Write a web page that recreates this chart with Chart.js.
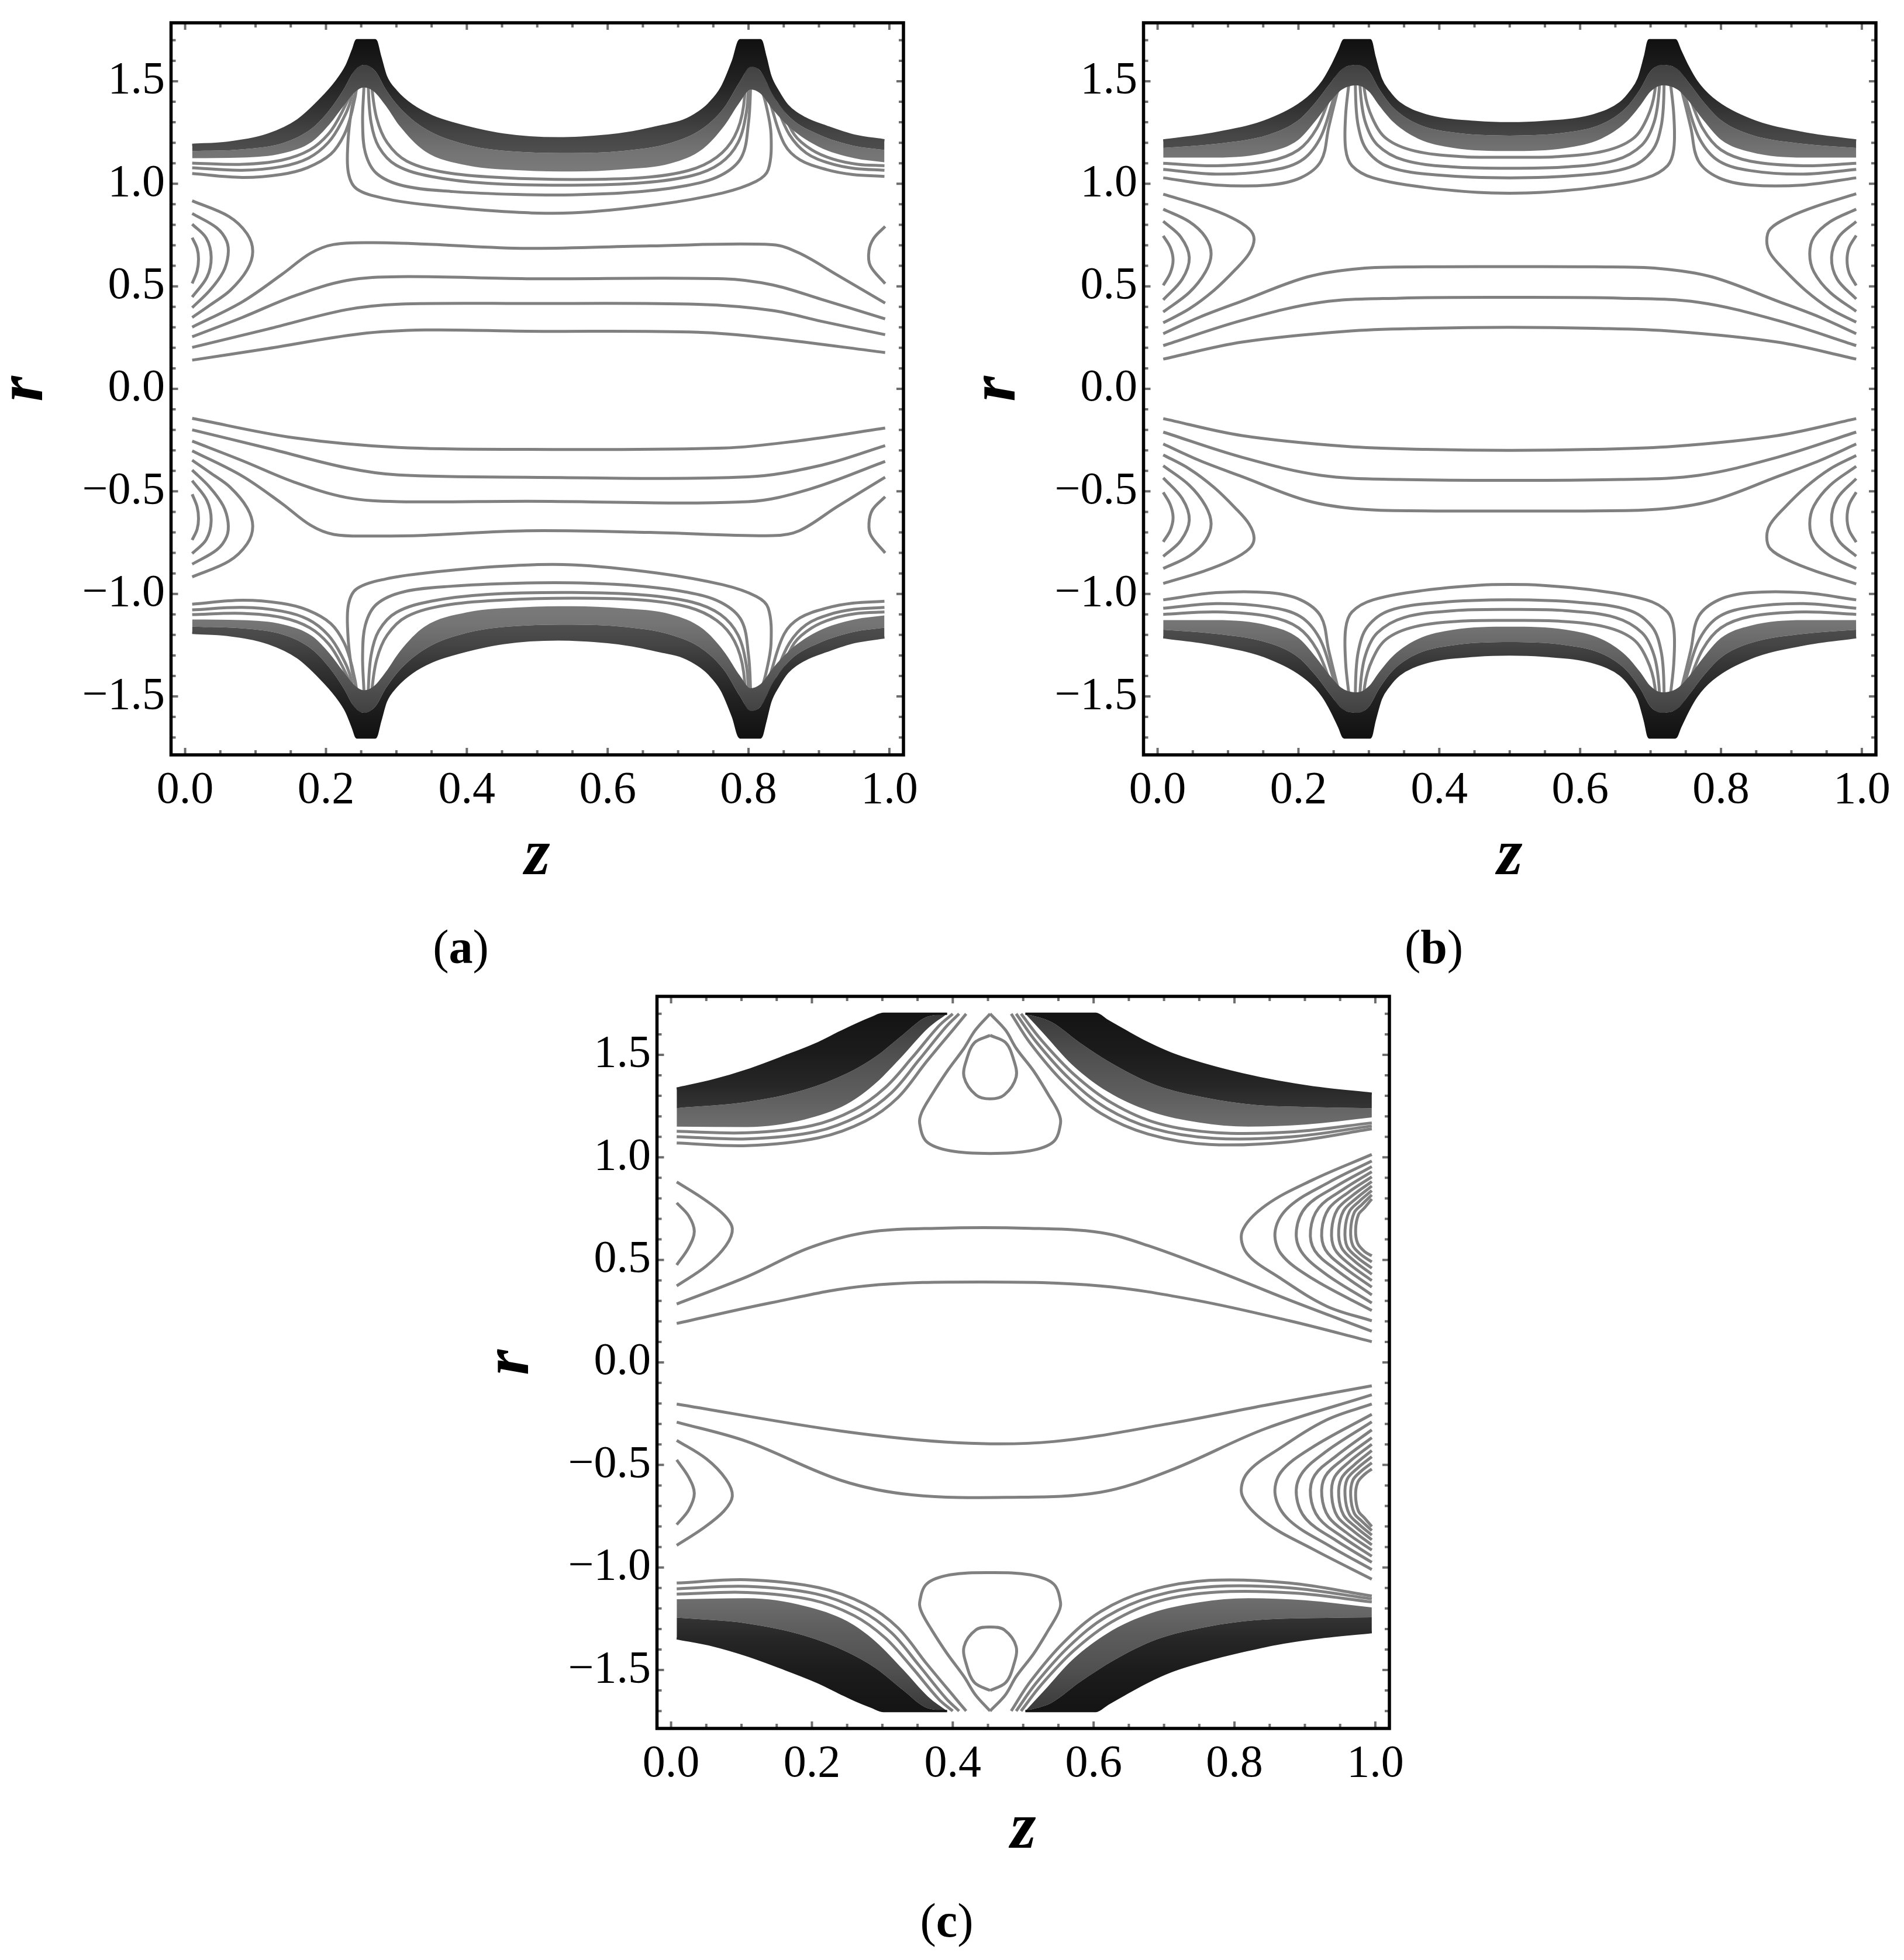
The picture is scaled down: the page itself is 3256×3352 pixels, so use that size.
<!DOCTYPE html>
<html lang="en">
  <head>
    <meta charset="UTF-8" />
    <title>Streamlines (a) (b) (c)</title>
    <script src="https://cdn.jsdelivr.net/npm/chart.js"></script>
    <style>
      body { margin: 0; background: #fff; }
      #page { position: relative; width: 3256px; height: 3352px; background: #fff; }
      canvas { position: absolute; }
      .tag {
        position: absolute;
        transform: translate(-50%, -50%);
        font-family: "Liberation Serif", "DejaVu Serif", serif;
        font-size: 82px;
        line-height: 1;
        white-space: nowrap;
        color: #000;
      }
    </style>
  </head>
  <body>
    <div id="page">
      <canvas id="chart-a" width="1600" height="1540" style="left:0px;top:0px"></canvas>
      <canvas id="chart-b" width="1600" height="1540" style="left:1663px;top:0px"></canvas>
      <canvas id="chart-c" width="1600" height="1540" style="left:831px;top:1665px"></canvas>
      <div class="tag" style="left:788px;top:1620px">(<b>a</b>)</div>
      <div class="tag" style="left:2452px;top:1620px">(<b>b</b>)</div>
      <div class="tag" style="left:1619px;top:3285px">(<b>c</b>)</div>
    </div>

    <script>
      // axis ticks
      const zTicks = [0, 0.2, 0.4, 0.6, 0.8, 1.0];
      const rTicks = [-1.5, -1.0, -0.5, 0, 0.5, 1.0, 1.5];

      // ---------- (a) upper half ----------
      const aWallTop = [[0.01,1.19],[0.06,1.2],[0.118,1.24],[0.16,1.31],[0.192,1.41],[0.215,1.5],[0.229,1.574],[0.238,1.65],[0.244,1.7],[0.27,1.7],[0.277,1.62],[0.285,1.525],[0.3,1.45],[0.322,1.383],[0.35,1.33],[0.378,1.297],[0.452,1.24],[0.53,1.222],[0.6,1.235],[0.633,1.25],[0.675,1.28],[0.707,1.307],[0.73,1.35],[0.744,1.39],[0.762,1.47],[0.778,1.6],[0.788,1.7],[0.817,1.7],[0.824,1.62],[0.831,1.525],[0.842,1.45],[0.855,1.383],[0.88,1.32],[0.911,1.278],[0.95,1.235],[0.993,1.212]];
      const aMidTop = [[0.01,1.16],[0.08,1.168],[0.14,1.2],[0.18,1.27],[0.205,1.36],[0.225,1.46],[0.24,1.55],[0.254,1.58],[0.27,1.55],[0.285,1.46],[0.305,1.37],[0.34,1.27],[0.4,1.19],[0.48,1.155],[0.55,1.15],[0.62,1.16],[0.69,1.2],[0.735,1.27],[0.765,1.37],[0.788,1.5],[0.803,1.57],[0.817,1.55],[0.835,1.43],[0.86,1.32],[0.9,1.24],[0.95,1.185],[0.993,1.165]];
      const aEdgeTop = [[0.01,1.125],[0.08,1.128],[0.14,1.15],[0.18,1.205],[0.205,1.29],[0.225,1.38],[0.242,1.45],[0.254,1.47],[0.268,1.45],[0.285,1.38],[0.305,1.28],[0.34,1.16],[0.4,1.09],[0.48,1.065],[0.55,1.06],[0.62,1.07],[0.69,1.1],[0.735,1.17],[0.765,1.28],[0.788,1.4],[0.803,1.46],[0.817,1.44],[0.835,1.36],[0.86,1.27],[0.9,1.18],[0.95,1.125],[0.993,1.105]];
      const aL1 = [[0.01,1.05],[0.081,1.031],[0.137,1.046],[0.174,1.079],[0.207,1.145],[0.226,1.24],[0.237,1.354],[0.245,1.5],[0.25,1.7]];
      const aL2 = [[0.01,1.078],[0.081,1.066],[0.137,1.084],[0.175,1.125],[0.203,1.2],[0.222,1.3],[0.236,1.42],[0.246,1.7]];
      const aL3 = [[0.01,1.101],[0.081,1.095],[0.137,1.115],[0.177,1.165],[0.204,1.245],[0.222,1.345],[0.236,1.46],[0.244,1.7]];
      const aM1 = [[0.252,1.7],[0.245,1.5],[0.236,1.354],[0.231,1.19],[0.232,1.05],[0.244,0.974],[0.285,0.927],[0.341,0.898],[0.452,0.865],[0.55,0.858],[0.67,0.898],[0.763,0.955],[0.811,1.012],[0.828,1.069],[0.832,1.24],[0.825,1.383],[0.812,1.55],[0.806,1.7]];
      const aM2 = [[0.256,1.7],[0.254,1.48],[0.252,1.3],[0.256,1.15],[0.272,1.05],[0.31,0.99],[0.38,0.962],[0.47,0.948],[0.55,0.946],[0.64,0.96],[0.71,0.99],[0.76,1.04],[0.79,1.13],[0.8,1.3],[0.803,1.48],[0.805,1.7]];
      const aM3 = [[0.259,1.7],[0.26,1.48],[0.264,1.3],[0.275,1.18],[0.3,1.09],[0.35,1.035],[0.43,1.002],[0.55,0.993],[0.65,1.005],[0.72,1.04],[0.76,1.1],[0.785,1.2],[0.797,1.35],[0.8,1.5],[0.802,1.7]];
      const aM4 = [[0.262,1.7],[0.265,1.48],[0.272,1.32],[0.287,1.2],[0.315,1.11],[0.37,1.055],[0.45,1.03],[0.55,1.021],[0.65,1.03],[0.715,1.065],[0.755,1.13],[0.78,1.23],[0.793,1.38],[0.798,1.7]];
      const aR1 = [[0.81,1.7],[0.822,1.52],[0.833,1.37],[0.851,1.193],[0.873,1.117],[0.911,1.069],[0.948,1.045],[0.993,1.036]];
      const aR2 = [[0.813,1.7],[0.826,1.52],[0.84,1.38],[0.858,1.24],[0.882,1.15],[0.915,1.1],[0.95,1.075],[0.993,1.066]];
      const aR3 = [[0.816,1.7],[0.83,1.52],[0.845,1.39],[0.865,1.24],[0.89,1.165],[0.92,1.12],[0.955,1.095],[0.993,1.088]];
      const aLobe1 = [[0.01,0.917],[0.062,0.841],[0.088,0.756],[0.096,0.67],[0.088,0.58],[0.064,0.48],[0.036,0.41],[0.01,0.348]];
      const aLobe2 = [[0.01,0.855],[0.045,0.785],[0.059,0.72],[0.061,0.652],[0.054,0.57],[0.035,0.48],[0.01,0.396]];
      const aLobe3 = [[0.01,0.803],[0.03,0.735],[0.037,0.642],[0.031,0.545],[0.01,0.448]];
      const aLobe4 = [[0.01,0.737],[0.017,0.685],[0.019,0.633],[0.017,0.575],[0.01,0.514]];
      const aLobeR = [[0.994,0.792],[0.978,0.735],[0.971,0.673],[0.973,0.6],[0.994,0.513]];
      const aT1 = [[0.01,0.301],[0.081,0.424],[0.137,0.557],[0.178,0.661],[0.211,0.704],[0.266,0.713],[0.341,0.706],[0.485,0.685],[0.66,0.697],[0.834,0.703],[0.872,0.662],[0.926,0.555],[0.994,0.418]];
      const aT2 = [[0.01,0.254],[0.081,0.348],[0.155,0.453],[0.229,0.528],[0.303,0.547],[0.485,0.537],[0.764,0.537],[0.834,0.507],[0.904,0.436],[0.994,0.341]];
      const aT3 = [[0.01,0.202],[0.118,0.292],[0.229,0.386],[0.303,0.413],[0.485,0.416],[0.729,0.412],[0.834,0.382],[0.904,0.329],[0.994,0.264]];
      const aT4 = [[0.01,0.14],[0.118,0.197],[0.248,0.268],[0.341,0.287],[0.485,0.281],[0.729,0.276],[0.834,0.246],[0.994,0.177]];

      // ---------- (a) lower half ----------
      const aWallBot = [[0.01,-1.19],[0.06,-1.2],[0.118,-1.24],[0.16,-1.31],[0.192,-1.41],[0.215,-1.5],[0.229,-1.574],[0.238,-1.65],[0.244,-1.7],[0.27,-1.7],[0.277,-1.62],[0.285,-1.525],[0.3,-1.45],[0.322,-1.383],[0.35,-1.33],[0.378,-1.297],[0.452,-1.24],[0.53,-1.222],[0.6,-1.235],[0.633,-1.25],[0.675,-1.28],[0.707,-1.307],[0.73,-1.35],[0.744,-1.39],[0.762,-1.47],[0.778,-1.6],[0.788,-1.7],[0.817,-1.7],[0.824,-1.62],[0.831,-1.525],[0.842,-1.45],[0.855,-1.383],[0.88,-1.32],[0.911,-1.278],[0.95,-1.235],[0.993,-1.212]];
      const aMidBot = [[0.01,-1.16],[0.08,-1.168],[0.14,-1.2],[0.18,-1.27],[0.205,-1.36],[0.225,-1.46],[0.24,-1.55],[0.254,-1.58],[0.27,-1.55],[0.285,-1.46],[0.305,-1.37],[0.34,-1.27],[0.4,-1.19],[0.48,-1.155],[0.55,-1.15],[0.62,-1.16],[0.69,-1.2],[0.735,-1.27],[0.765,-1.37],[0.788,-1.5],[0.803,-1.57],[0.817,-1.55],[0.835,-1.43],[0.86,-1.32],[0.9,-1.24],[0.95,-1.185],[0.993,-1.165]];
      const aEdgeBot = [[0.01,-1.125],[0.08,-1.128],[0.14,-1.15],[0.18,-1.205],[0.205,-1.29],[0.225,-1.38],[0.242,-1.45],[0.254,-1.47],[0.268,-1.45],[0.285,-1.38],[0.305,-1.28],[0.34,-1.16],[0.4,-1.09],[0.48,-1.065],[0.55,-1.06],[0.62,-1.07],[0.69,-1.1],[0.735,-1.17],[0.765,-1.28],[0.788,-1.4],[0.803,-1.46],[0.817,-1.44],[0.835,-1.36],[0.86,-1.27],[0.9,-1.18],[0.95,-1.125],[0.993,-1.105]];
      const aL1b = [[0.01,-1.05],[0.081,-1.031],[0.137,-1.046],[0.174,-1.079],[0.207,-1.145],[0.226,-1.24],[0.237,-1.354],[0.245,-1.5],[0.25,-1.7]];
      const aL2b = [[0.01,-1.078],[0.081,-1.066],[0.137,-1.084],[0.175,-1.125],[0.203,-1.2],[0.222,-1.3],[0.236,-1.42],[0.246,-1.7]];
      const aL3b = [[0.01,-1.101],[0.081,-1.095],[0.137,-1.115],[0.177,-1.165],[0.204,-1.245],[0.222,-1.345],[0.236,-1.46],[0.244,-1.7]];
      const aM1b = [[0.252,-1.7],[0.245,-1.5],[0.236,-1.354],[0.231,-1.19],[0.232,-1.05],[0.244,-0.974],[0.285,-0.927],[0.341,-0.898],[0.452,-0.865],[0.55,-0.858],[0.67,-0.898],[0.763,-0.955],[0.811,-1.012],[0.828,-1.069],[0.832,-1.24],[0.825,-1.383],[0.812,-1.55],[0.806,-1.7]];
      const aM2b = [[0.256,-1.7],[0.254,-1.48],[0.252,-1.3],[0.256,-1.15],[0.272,-1.05],[0.31,-0.99],[0.38,-0.962],[0.47,-0.948],[0.55,-0.946],[0.64,-0.96],[0.71,-0.99],[0.76,-1.04],[0.79,-1.13],[0.8,-1.3],[0.803,-1.48],[0.805,-1.7]];
      const aM3b = [[0.259,-1.7],[0.26,-1.48],[0.264,-1.3],[0.275,-1.18],[0.3,-1.09],[0.35,-1.035],[0.43,-1.002],[0.55,-0.993],[0.65,-1.005],[0.72,-1.04],[0.76,-1.1],[0.785,-1.2],[0.797,-1.35],[0.8,-1.5],[0.802,-1.7]];
      const aM4b = [[0.262,-1.7],[0.265,-1.48],[0.272,-1.32],[0.287,-1.2],[0.315,-1.11],[0.37,-1.055],[0.45,-1.03],[0.55,-1.021],[0.65,-1.03],[0.715,-1.065],[0.755,-1.13],[0.78,-1.23],[0.793,-1.38],[0.798,-1.7]];
      const aR1b = [[0.81,-1.7],[0.822,-1.52],[0.833,-1.37],[0.851,-1.193],[0.873,-1.117],[0.911,-1.069],[0.948,-1.045],[0.993,-1.036]];
      const aR2b = [[0.813,-1.7],[0.826,-1.52],[0.84,-1.38],[0.858,-1.24],[0.882,-1.15],[0.915,-1.1],[0.95,-1.075],[0.993,-1.066]];
      const aR3b = [[0.816,-1.7],[0.83,-1.52],[0.845,-1.39],[0.865,-1.24],[0.89,-1.165],[0.92,-1.12],[0.955,-1.095],[0.993,-1.088]];
      const aLobe1b = [[0.01,-0.917],[0.062,-0.841],[0.088,-0.756],[0.096,-0.67],[0.088,-0.58],[0.064,-0.48],[0.036,-0.41],[0.01,-0.348]];
      const aLobe2b = [[0.01,-0.855],[0.045,-0.785],[0.059,-0.72],[0.061,-0.652],[0.054,-0.57],[0.035,-0.48],[0.01,-0.396]];
      const aLobe3b = [[0.01,-0.803],[0.03,-0.735],[0.037,-0.642],[0.031,-0.545],[0.01,-0.448]];
      const aLobe4b = [[0.01,-0.737],[0.017,-0.685],[0.019,-0.633],[0.017,-0.575],[0.01,-0.514]];
      const aLobeRb = [[0.994,-0.526],[0.976,-0.59],[0.971,-0.657],[0.974,-0.716],[0.994,-0.8]];
      const aB1 = [[0.01,-0.302],[0.081,-0.425],[0.137,-0.558],[0.178,-0.665],[0.211,-0.71],[0.266,-0.718],[0.341,-0.714],[0.485,-0.692],[0.66,-0.7],[0.834,-0.716],[0.872,-0.692],[0.926,-0.574],[0.994,-0.431]];
      const aB2 = [[0.01,-0.255],[0.081,-0.35],[0.155,-0.455],[0.229,-0.53],[0.303,-0.55],[0.485,-0.548],[0.799,-0.55],[0.886,-0.49],[0.994,-0.354]];
      const aB3 = [[0.01,-0.2],[0.118,-0.29],[0.229,-0.385],[0.303,-0.42],[0.485,-0.431],[0.799,-0.429],[0.904,-0.372],[0.994,-0.277]];
      const aB4 = [[0.01,-0.144],[0.155,-0.239],[0.303,-0.286],[0.485,-0.295],[0.764,-0.289],[0.872,-0.253],[0.994,-0.191]];

      // ---------- (b) upper half ----------
      const bWallTop = [[0.008,1.211],[0.083,1.247],[0.158,1.312],[0.213,1.418],[0.235,1.5],[0.247,1.571],[0.258,1.65],[0.265,1.7],[0.302,1.7],[0.308,1.62],[0.317,1.512],[0.328,1.45],[0.343,1.394],[0.38,1.335],[0.455,1.3],[0.5,1.295],[0.545,1.3],[0.62,1.335],[0.657,1.394],[0.672,1.45],[0.683,1.512],[0.692,1.62],[0.698,1.7],[0.735,1.7],[0.742,1.65],[0.753,1.571],[0.765,1.5],[0.787,1.418],[0.842,1.312],[0.917,1.247],[0.992,1.211]];
      const bMidTop = [[0.008,1.175],[0.083,1.195],[0.158,1.24],[0.2,1.31],[0.225,1.4],[0.245,1.49],[0.262,1.56],[0.283,1.58],[0.3,1.55],[0.315,1.46],[0.335,1.37],[0.37,1.29],[0.42,1.25],[0.5,1.235],[0.58,1.25],[0.63,1.29],[0.665,1.37],[0.685,1.46],[0.7,1.55],[0.717,1.58],[0.738,1.56],[0.755,1.49],[0.775,1.4],[0.8,1.31],[0.842,1.24],[0.917,1.195],[0.992,1.175]];
      const bEdgeTop = [[0.008,1.128],[0.083,1.128],[0.158,1.155],[0.2,1.215],[0.225,1.31],[0.245,1.4],[0.262,1.46],[0.283,1.48],[0.3,1.45],[0.315,1.38],[0.335,1.3],[0.37,1.22],[0.42,1.175],[0.5,1.16],[0.58,1.175],[0.63,1.22],[0.665,1.3],[0.685,1.38],[0.7,1.45],[0.717,1.48],[0.738,1.46],[0.755,1.4],[0.775,1.31],[0.8,1.215],[0.842,1.155],[0.917,1.128],[0.992,1.128]];
      const bL1 = [[0.008,1.029],[0.083,0.994],[0.158,0.994],[0.203,1.029],[0.232,1.111],[0.243,1.276],[0.254,1.43],[0.265,1.571],[0.275,1.7]];
      const bL2 = [[0.008,1.07],[0.083,1.047],[0.158,1.064],[0.203,1.111],[0.23,1.217],[0.248,1.394],[0.262,1.56],[0.272,1.7]];
      const bL3 = [[0.008,1.1],[0.083,1.088],[0.158,1.11],[0.2,1.165],[0.226,1.27],[0.245,1.43],[0.26,1.59],[0.27,1.7]];
      const bM1 = [[0.278,1.7],[0.272,1.5],[0.267,1.335],[0.267,1.17],[0.276,1.088],[0.306,1.029],[0.38,0.982],[0.455,0.958],[0.5,0.954],[0.545,0.958],[0.62,0.982],[0.694,1.029],[0.724,1.088],[0.733,1.17],[0.733,1.335],[0.728,1.5],[0.722,1.7]];
      const bM2 = [[0.282,1.7],[0.281,1.45],[0.285,1.28],[0.298,1.16],[0.33,1.08],[0.4,1.042],[0.5,1.029],[0.6,1.042],[0.67,1.08],[0.702,1.16],[0.715,1.28],[0.719,1.45],[0.718,1.7]];
      const bM3 = [[0.286,1.7],[0.288,1.45],[0.295,1.3],[0.312,1.19],[0.35,1.115],[0.42,1.082],[0.5,1.076],[0.58,1.082],[0.65,1.115],[0.688,1.19],[0.705,1.3],[0.712,1.45],[0.714,1.7]];
      const bM4 = [[0.29,1.7],[0.294,1.45],[0.305,1.32],[0.325,1.22],[0.365,1.16],[0.43,1.133],[0.5,1.129],[0.57,1.133],[0.635,1.16],[0.675,1.22],[0.695,1.32],[0.706,1.45],[0.71,1.7]];
      const bR1 = [[0.725,1.7],[0.735,1.571],[0.746,1.43],[0.757,1.276],[0.768,1.111],[0.797,1.029],[0.842,0.994],[0.917,0.994],[0.992,1.029]];
      const bR2 = [[0.728,1.7],[0.738,1.56],[0.752,1.394],[0.77,1.217],[0.797,1.111],[0.842,1.064],[0.917,1.047],[0.992,1.07]];
      const bR3 = [[0.73,1.7],[0.74,1.59],[0.755,1.43],[0.774,1.27],[0.8,1.165],[0.842,1.11],[0.917,1.088],[0.992,1.1]];
      const bLobeL1 = [[0.008,0.949],[0.065,0.89],[0.105,0.835],[0.13,0.78],[0.137,0.729],[0.13,0.66],[0.11,0.58],[0.08,0.48],[0.045,0.39],[0.008,0.322]];
      const bLobeL2 = [[0.008,0.876],[0.045,0.815],[0.068,0.74],[0.076,0.658],[0.068,0.57],[0.045,0.47],[0.008,0.375]];
      const bLobeL3 = [[0.008,0.817],[0.033,0.74],[0.045,0.64],[0.035,0.535],[0.008,0.434]];
      const bLobeL4 = [[0.008,0.746],[0.018,0.69],[0.022,0.628],[0.018,0.565],[0.008,0.505]];
      const bLobeR1 = [[0.992,0.951],[0.935,0.89],[0.895,0.835],[0.87,0.78],[0.865,0.722],[0.87,0.66],[0.89,0.58],[0.92,0.48],[0.955,0.39],[0.992,0.325]];
      const bLobeR2 = [[0.992,0.876],[0.955,0.815],[0.932,0.74],[0.926,0.658],[0.932,0.57],[0.955,0.47],[0.992,0.378]];
      const bLobeR3 = [[0.992,0.816],[0.967,0.74],[0.957,0.641],[0.965,0.535],[0.992,0.438]];
      const bLobeR4 = [[0.992,0.748],[0.982,0.69],[0.979,0.629],[0.982,0.565],[0.992,0.504]];
      const bT1 = [[0.008,0.269],[0.06,0.35],[0.12,0.428],[0.213,0.546],[0.288,0.587],[0.38,0.595],[0.5,0.596],[0.62,0.595],[0.712,0.587],[0.787,0.546],[0.88,0.428],[0.94,0.35],[0.992,0.269]];
      const bT2 = [[0.008,0.211],[0.12,0.334],[0.232,0.422],[0.343,0.442],[0.5,0.446],[0.657,0.442],[0.768,0.422],[0.88,0.334],[0.992,0.211]];
      const bT3 = [[0.008,0.145],[0.12,0.228],[0.269,0.281],[0.38,0.295],[0.5,0.3],[0.62,0.295],[0.731,0.281],[0.88,0.228],[0.992,0.145]];

      // ---------- (b) lower half ----------
      const bWallBot = [[0.008,-1.211],[0.083,-1.247],[0.158,-1.312],[0.213,-1.418],[0.235,-1.5],[0.247,-1.571],[0.258,-1.65],[0.265,-1.7],[0.302,-1.7],[0.308,-1.62],[0.317,-1.512],[0.328,-1.45],[0.343,-1.394],[0.38,-1.335],[0.455,-1.3],[0.5,-1.295],[0.545,-1.3],[0.62,-1.335],[0.657,-1.394],[0.672,-1.45],[0.683,-1.512],[0.692,-1.62],[0.698,-1.7],[0.735,-1.7],[0.742,-1.65],[0.753,-1.571],[0.765,-1.5],[0.787,-1.418],[0.842,-1.312],[0.917,-1.247],[0.992,-1.211]];
      const bMidBot = [[0.008,-1.175],[0.083,-1.195],[0.158,-1.24],[0.2,-1.31],[0.225,-1.4],[0.245,-1.49],[0.262,-1.56],[0.283,-1.58],[0.3,-1.55],[0.315,-1.46],[0.335,-1.37],[0.37,-1.29],[0.42,-1.25],[0.5,-1.235],[0.58,-1.25],[0.63,-1.29],[0.665,-1.37],[0.685,-1.46],[0.7,-1.55],[0.717,-1.58],[0.738,-1.56],[0.755,-1.49],[0.775,-1.4],[0.8,-1.31],[0.842,-1.24],[0.917,-1.195],[0.992,-1.175]];
      const bEdgeBot = [[0.008,-1.128],[0.083,-1.128],[0.158,-1.155],[0.2,-1.215],[0.225,-1.31],[0.245,-1.4],[0.262,-1.46],[0.283,-1.48],[0.3,-1.45],[0.315,-1.38],[0.335,-1.3],[0.37,-1.22],[0.42,-1.175],[0.5,-1.16],[0.58,-1.175],[0.63,-1.22],[0.665,-1.3],[0.685,-1.38],[0.7,-1.45],[0.717,-1.48],[0.738,-1.46],[0.755,-1.4],[0.775,-1.31],[0.8,-1.215],[0.842,-1.155],[0.917,-1.128],[0.992,-1.128]];
      const bL1b = [[0.008,-1.029],[0.083,-0.994],[0.158,-0.994],[0.203,-1.029],[0.232,-1.111],[0.243,-1.276],[0.254,-1.43],[0.265,-1.571],[0.275,-1.7]];
      const bL2b = [[0.008,-1.07],[0.083,-1.047],[0.158,-1.064],[0.203,-1.111],[0.23,-1.217],[0.248,-1.394],[0.262,-1.56],[0.272,-1.7]];
      const bL3b = [[0.008,-1.1],[0.083,-1.088],[0.158,-1.11],[0.2,-1.165],[0.226,-1.27],[0.245,-1.43],[0.26,-1.59],[0.27,-1.7]];
      const bM1b = [[0.278,-1.7],[0.272,-1.5],[0.267,-1.335],[0.267,-1.17],[0.276,-1.088],[0.306,-1.029],[0.38,-0.982],[0.455,-0.958],[0.5,-0.954],[0.545,-0.958],[0.62,-0.982],[0.694,-1.029],[0.724,-1.088],[0.733,-1.17],[0.733,-1.335],[0.728,-1.5],[0.722,-1.7]];
      const bM2b = [[0.282,-1.7],[0.281,-1.45],[0.285,-1.28],[0.298,-1.16],[0.33,-1.08],[0.4,-1.042],[0.5,-1.029],[0.6,-1.042],[0.67,-1.08],[0.702,-1.16],[0.715,-1.28],[0.719,-1.45],[0.718,-1.7]];
      const bM3b = [[0.286,-1.7],[0.288,-1.45],[0.295,-1.3],[0.312,-1.19],[0.35,-1.115],[0.42,-1.082],[0.5,-1.076],[0.58,-1.082],[0.65,-1.115],[0.688,-1.19],[0.705,-1.3],[0.712,-1.45],[0.714,-1.7]];
      const bM4b = [[0.29,-1.7],[0.294,-1.45],[0.305,-1.32],[0.325,-1.22],[0.365,-1.16],[0.43,-1.133],[0.5,-1.129],[0.57,-1.133],[0.635,-1.16],[0.675,-1.22],[0.695,-1.32],[0.706,-1.45],[0.71,-1.7]];
      const bR1b = [[0.725,-1.7],[0.735,-1.571],[0.746,-1.43],[0.757,-1.276],[0.768,-1.111],[0.797,-1.029],[0.842,-0.994],[0.917,-0.994],[0.992,-1.029]];
      const bR2b = [[0.728,-1.7],[0.738,-1.56],[0.752,-1.394],[0.77,-1.217],[0.797,-1.111],[0.842,-1.064],[0.917,-1.047],[0.992,-1.07]];
      const bR3b = [[0.73,-1.7],[0.74,-1.59],[0.755,-1.43],[0.774,-1.27],[0.8,-1.165],[0.842,-1.11],[0.917,-1.088],[0.992,-1.1]];
      const bLobeL1b = [[0.008,-0.949],[0.065,-0.89],[0.105,-0.835],[0.13,-0.78],[0.137,-0.729],[0.13,-0.66],[0.11,-0.58],[0.08,-0.48],[0.045,-0.39],[0.008,-0.322]];
      const bLobeL2b = [[0.008,-0.876],[0.045,-0.815],[0.068,-0.74],[0.076,-0.658],[0.068,-0.57],[0.045,-0.47],[0.008,-0.375]];
      const bLobeL3b = [[0.008,-0.817],[0.033,-0.74],[0.045,-0.64],[0.035,-0.535],[0.008,-0.434]];
      const bLobeL4b = [[0.008,-0.746],[0.018,-0.69],[0.022,-0.628],[0.018,-0.565],[0.008,-0.505]];
      const bLobeR1b = [[0.992,-0.951],[0.935,-0.89],[0.895,-0.835],[0.87,-0.78],[0.865,-0.722],[0.87,-0.66],[0.89,-0.58],[0.92,-0.48],[0.955,-0.39],[0.992,-0.325]];
      const bLobeR2b = [[0.992,-0.876],[0.955,-0.815],[0.932,-0.74],[0.926,-0.658],[0.932,-0.57],[0.955,-0.47],[0.992,-0.378]];
      const bLobeR3b = [[0.992,-0.816],[0.967,-0.74],[0.957,-0.641],[0.965,-0.535],[0.992,-0.438]];
      const bLobeR4b = [[0.992,-0.748],[0.982,-0.69],[0.979,-0.629],[0.982,-0.565],[0.992,-0.504]];
      const bB1 = [[0.008,-0.269],[0.06,-0.35],[0.12,-0.428],[0.213,-0.546],[0.288,-0.587],[0.38,-0.595],[0.5,-0.596],[0.62,-0.595],[0.712,-0.587],[0.787,-0.546],[0.88,-0.428],[0.94,-0.35],[0.992,-0.269]];
      const bB2 = [[0.008,-0.211],[0.12,-0.334],[0.232,-0.422],[0.343,-0.442],[0.5,-0.446],[0.657,-0.442],[0.768,-0.422],[0.88,-0.334],[0.992,-0.211]];
      const bB3 = [[0.008,-0.145],[0.12,-0.228],[0.269,-0.281],[0.38,-0.295],[0.5,-0.3],[0.62,-0.295],[0.731,-0.281],[0.88,-0.228],[0.992,-0.145]];

      // ---------- (c) upper half ----------
      const cWallLTop = [[0.008,1.335],[0.06,1.375],[0.108,1.424],[0.16,1.49],[0.209,1.557],[0.24,1.61],[0.262,1.646],[0.285,1.68],[0.302,1.7],[0.392,1.7]];
      const cMidLTop = [[0.008,1.24],[0.108,1.27],[0.19,1.33],[0.25,1.41],[0.29,1.49],[0.33,1.6],[0.36,1.68],[0.392,1.7]];
      const cEdgeLTop = [[0.008,1.15],[0.108,1.148],[0.19,1.185],[0.25,1.26],[0.29,1.36],[0.33,1.5],[0.365,1.63],[0.392,1.7]];
      const cWallRTop = [[0.503,1.7],[0.603,1.7],[0.62,1.665],[0.643,1.62],[0.675,1.56],[0.71,1.506],[0.76,1.45],[0.811,1.405],[0.86,1.37],[0.911,1.342],[0.995,1.31]];
      const cMidRTop = [[0.503,1.7],[0.54,1.66],[0.58,1.56],[0.63,1.45],[0.69,1.35],[0.76,1.29],[0.83,1.255],[0.91,1.245],[0.995,1.24]];
      const cEdgeRTop = [[0.503,1.7],[0.53,1.6],[0.57,1.45],[0.62,1.32],[0.68,1.225],[0.75,1.17],[0.82,1.15],[0.9,1.16],[0.995,1.195]];
      const cL1 = [[0.008,1.07],[0.108,1.057],[0.209,1.095],[0.276,1.177],[0.322,1.291],[0.363,1.468],[0.403,1.633],[0.419,1.7]];
      const cL2 = [[0.008,1.101],[0.108,1.09],[0.205,1.125],[0.268,1.205],[0.313,1.315],[0.352,1.475],[0.39,1.635],[0.409,1.7]];
      const cL3 = [[0.008,1.127],[0.108,1.12],[0.2,1.155],[0.26,1.232],[0.304,1.34],[0.342,1.485],[0.38,1.64],[0.4,1.7]];
      const cR1 = [[0.483,1.7],[0.51,1.557],[0.557,1.367],[0.61,1.215],[0.677,1.114],[0.764,1.063],[0.878,1.076],[0.995,1.139]];
      const cR2 = [[0.49,1.7],[0.518,1.565],[0.565,1.385],[0.618,1.24],[0.685,1.14],[0.77,1.093],[0.88,1.1],[0.995,1.153]];
      const cR3 = [[0.497,1.7],[0.525,1.575],[0.572,1.405],[0.626,1.265],[0.692,1.165],[0.776,1.12],[0.885,1.125],[0.995,1.168]];
      const cLoop1 = [[0.453,1.7],[0.475,1.62],[0.49,1.532],[0.515,1.42],[0.536,1.304],[0.55,1.22],[0.553,1.165],[0.543,1.076],[0.51,1.032],[0.453,1.019],[0.396,1.032],[0.363,1.076],[0.353,1.165],[0.356,1.22],[0.37,1.304],[0.392,1.42],[0.416,1.532],[0.432,1.62],[0.453,1.7]];
      const cLoop2 = [[0.453,1.595],[0.475,1.56],[0.486,1.481],[0.49,1.392],[0.473,1.304],[0.453,1.285],[0.433,1.304],[0.416,1.392],[0.42,1.481],[0.431,1.56],[0.453,1.595]];
      const cLobeL1 = [[0.008,0.88],[0.045,0.8],[0.075,0.72],[0.087,0.652],[0.078,0.57],[0.05,0.47],[0.008,0.373]];
      const cLobeL2 = [[0.008,0.778],[0.025,0.715],[0.033,0.639],[0.025,0.56],[0.008,0.475]];
      const cLobeR1 = [[0.995,1.014],[0.911,0.89],[0.844,0.765],[0.811,0.639],[0.818,0.53],[0.864,0.413],[0.931,0.274],[0.995,0.203]];
      const cLobeR2 = [[0.995,0.982],[0.935,0.88],[0.878,0.76],[0.858,0.645],[0.866,0.53],[0.91,0.41],[0.995,0.253]];
      const cLobeR3 = [[0.995,0.955],[0.945,0.86],[0.902,0.76],[0.888,0.645],[0.895,0.54],[0.93,0.43],[0.995,0.29]];
      const cLobeR4 = [[0.995,0.93],[0.955,0.845],[0.92,0.755],[0.908,0.645],[0.914,0.545],[0.945,0.45],[0.995,0.329]];
      const cLobeR5 = [[0.995,0.905],[0.962,0.83],[0.934,0.75],[0.924,0.645],[0.929,0.55],[0.955,0.465],[0.995,0.367]];
      const cLobeR6 = [[0.995,0.882],[0.968,0.815],[0.946,0.745],[0.938,0.645],[0.942,0.555],[0.963,0.48],[0.995,0.399]];
      const cLobeR7 = [[0.995,0.86],[0.973,0.8],[0.955,0.74],[0.948,0.645],[0.952,0.56],[0.97,0.495],[0.995,0.43]];
      const cLobeR8 = [[0.995,0.838],[0.977,0.785],[0.963,0.735],[0.957,0.645],[0.96,0.565],[0.975,0.51],[0.995,0.46]];
      const cLobeR9 = [[0.995,0.817],[0.981,0.77],[0.97,0.73],[0.965,0.645],[0.968,0.57],[0.98,0.525],[0.995,0.49]];
      const cLobeR10 = [[0.995,0.797],[0.985,0.755],[0.976,0.72],[0.972,0.645],[0.975,0.58],[0.985,0.54],[0.995,0.52]];
      const cT1 = [[0.008,0.285],[0.108,0.418],[0.195,0.557],[0.276,0.633],[0.376,0.654],[0.51,0.654],[0.61,0.633],[0.677,0.57],[0.777,0.443],[0.878,0.304],[0.995,0.152]];
      const cT2 = [[0.008,0.19],[0.142,0.291],[0.276,0.373],[0.443,0.392],[0.61,0.373],[0.744,0.304],[0.878,0.203],[0.995,0.101]];

      // ---------- (c) lower half ----------
      const cWallLBot = [[0.008,-1.345],[0.06,-1.38],[0.108,-1.428],[0.16,-1.493],[0.209,-1.56],[0.24,-1.612],[0.262,-1.648],[0.285,-1.68],[0.302,-1.7],[0.392,-1.7]];
      const cMidLBot = [[0.008,-1.245],[0.108,-1.273],[0.19,-1.333],[0.25,-1.412],[0.29,-1.49],[0.33,-1.6],[0.36,-1.68],[0.392,-1.7]];
      const cEdgeLBot = [[0.008,-1.155],[0.108,-1.15],[0.19,-1.188],[0.25,-1.262],[0.29,-1.36],[0.33,-1.5],[0.365,-1.63],[0.392,-1.7]];
      const cWallRBot = [[0.503,-1.7],[0.603,-1.7],[0.62,-1.665],[0.643,-1.62],[0.675,-1.56],[0.71,-1.506],[0.76,-1.452],[0.811,-1.408],[0.86,-1.372],[0.911,-1.345],[0.995,-1.315]];
      const cMidRBot = [[0.503,-1.7],[0.54,-1.66],[0.58,-1.56],[0.63,-1.45],[0.69,-1.35],[0.76,-1.29],[0.83,-1.257],[0.91,-1.247],[0.995,-1.243]];
      const cEdgeRBot = [[0.503,-1.7],[0.53,-1.6],[0.57,-1.45],[0.62,-1.32],[0.68,-1.225],[0.75,-1.17],[0.82,-1.15],[0.9,-1.16],[0.995,-1.195]];
      const cL1b = [[0.008,-1.076],[0.108,-1.06],[0.209,-1.098],[0.276,-1.18],[0.322,-1.294],[0.363,-1.47],[0.403,-1.635],[0.419,-1.7]];
      const cL2b = [[0.008,-1.104],[0.108,-1.092],[0.205,-1.128],[0.268,-1.208],[0.313,-1.318],[0.352,-1.477],[0.39,-1.637],[0.409,-1.7]];
      const cL3b = [[0.008,-1.13],[0.108,-1.122],[0.2,-1.158],[0.26,-1.235],[0.304,-1.343],[0.342,-1.487],[0.38,-1.642],[0.4,-1.7]];
      const cR1b = [[0.483,-1.7],[0.51,-1.557],[0.557,-1.367],[0.61,-1.215],[0.677,-1.114],[0.764,-1.063],[0.878,-1.076],[0.995,-1.139]];
      const cR2b = [[0.49,-1.7],[0.518,-1.565],[0.565,-1.385],[0.618,-1.24],[0.685,-1.14],[0.77,-1.093],[0.88,-1.1],[0.995,-1.153]];
      const cR3b = [[0.497,-1.7],[0.525,-1.575],[0.572,-1.405],[0.626,-1.265],[0.692,-1.165],[0.776,-1.12],[0.885,-1.125],[0.995,-1.168]];
      const cLoop1b = [[0.453,-1.7],[0.475,-1.62],[0.49,-1.532],[0.515,-1.42],[0.536,-1.304],[0.55,-1.22],[0.553,-1.17],[0.543,-1.08],[0.51,-1.036],[0.453,-1.025],[0.396,-1.036],[0.363,-1.08],[0.353,-1.17],[0.356,-1.22],[0.37,-1.304],[0.392,-1.42],[0.416,-1.532],[0.432,-1.62],[0.453,-1.7]];
      const cLoop2b = [[0.453,-1.6],[0.475,-1.562],[0.486,-1.481],[0.49,-1.386],[0.473,-1.304],[0.453,-1.29],[0.433,-1.304],[0.416,-1.386],[0.42,-1.481],[0.431,-1.562],[0.453,-1.6]];
      const cLobeL1b = [[0.008,-0.892],[0.045,-0.81],[0.075,-0.725],[0.087,-0.652],[0.078,-0.57],[0.05,-0.47],[0.008,-0.38]];
      const cLobeL2b = [[0.008,-0.791],[0.025,-0.72],[0.033,-0.639],[0.025,-0.56],[0.008,-0.475]];
      const cLobeR1b = [[0.995,-1.057],[0.911,-0.91],[0.844,-0.78],[0.811,-0.65],[0.818,-0.54],[0.864,-0.42],[0.931,-0.28],[0.995,-0.203]];
      const cLobeR2b = [[0.995,-1.01],[0.935,-0.895],[0.878,-0.77],[0.858,-0.65],[0.866,-0.535],[0.91,-0.415],[0.995,-0.253]];
      const cLobeR3b = [[0.995,-0.975],[0.945,-0.87],[0.902,-0.765],[0.888,-0.65],[0.895,-0.545],[0.93,-0.435],[0.995,-0.29]];
      const cLobeR4b = [[0.995,-0.945],[0.955,-0.855],[0.92,-0.76],[0.908,-0.65],[0.914,-0.55],[0.945,-0.455],[0.995,-0.329]];
      const cLobeR5b = [[0.995,-0.915],[0.962,-0.838],[0.934,-0.755],[0.924,-0.65],[0.929,-0.555],[0.955,-0.47],[0.995,-0.367]];
      const cLobeR6b = [[0.995,-0.89],[0.968,-0.82],[0.946,-0.75],[0.938,-0.65],[0.942,-0.56],[0.963,-0.485],[0.995,-0.399]];
      const cLobeR7b = [[0.995,-0.865],[0.973,-0.805],[0.955,-0.745],[0.948,-0.65],[0.952,-0.565],[0.97,-0.5],[0.995,-0.43]];
      const cLobeR8b = [[0.995,-0.842],[0.977,-0.79],[0.963,-0.74],[0.957,-0.65],[0.96,-0.57],[0.975,-0.515],[0.995,-0.46]];
      const cLobeR9b = [[0.995,-0.82],[0.981,-0.775],[0.97,-0.735],[0.965,-0.65],[0.968,-0.575],[0.98,-0.53],[0.995,-0.49]];
      const cLobeR10b = [[0.995,-0.8],[0.985,-0.76],[0.976,-0.725],[0.972,-0.65],[0.975,-0.585],[0.985,-0.545],[0.995,-0.52]];
      const cB1 = [[0.008,-0.291],[0.108,-0.386],[0.242,-0.576],[0.342,-0.646],[0.476,-0.658],[0.61,-0.633],[0.71,-0.525],[0.844,-0.323],[0.995,-0.158]];
      const cB2 = [[0.008,-0.203],[0.242,-0.335],[0.409,-0.392],[0.543,-0.386],[0.71,-0.297],[0.844,-0.209],[0.995,-0.114]];

      // ---------- look ----------
      const SERIF = "'Liberation Serif', 'DejaVu Serif', serif";
      const R_MAX = 1.785;
      const LINE_GREY = "#808080";
      // [r, colour] from the wall inwards; mirrored for the lower half
      const darkAB = [[1.7, "#111111"], [1.5, "#222222"], [1.35, "#353535"], [1.25, "#444444"], [1.15, "#4f4f4f"], [1.0, "#555555"]];
      const lightAB = [[1.7, "#333333"], [1.5, "#4a4a4a"], [1.3, "#626262"], [1.15, "#747474"], [1.0, "#7e7e7e"]];
      const darkC = [[1.7, "#141414"], [1.5, "#1c1c1c"], [1.35, "#262626"], [1.25, "#333333"], [1.15, "#3c3c3c"], [1.0, "#444444"]];
      const lightC = [[1.7, "#3a3a3a"], [1.5, "#505050"], [1.3, "#5e5e5e"], [1.15, "#6e6e6e"], [1.0, "#7a7a7a"]];

      function bandShade(chart, stops) {
        const y = chart.scales.y;
        if (!y || !chart.chartArea) return "#555555";
        const top = y.getPixelForValue(R_MAX);
        const bottom = y.getPixelForValue(-R_MAX);
        const g = chart.ctx.createLinearGradient(0, top, 0, bottom);
        const all = stops.concat(stops.slice().reverse().map(([r, c]) => [-r, c]));
        all.forEach(([r, c]) => g.addColorStop((R_MAX - r) / (2 * R_MAX), c));
        return g;
      }

      function fmt(v) {
        return Number(v).toFixed(1).replace("-", "\u2212");
      }

      // frame with inward ticks on all four sides
      const framePlugin = {
        id: "frameTicks",
        afterDraw(chart) {
          const { ctx, chartArea: a, scales } = chart;
          const x = scales.x;
          const y = scales.y;
          ctx.save();
          ctx.strokeStyle = "#6e6e6e";
          ctx.lineWidth = 4;
          ctx.beginPath();
          for (let i = 0; i <= 20; i++) {
            const px = x.getPixelForValue(i * 0.05);
            const len = i % 4 === 0 ? 12 : 8;
            ctx.moveTo(px, a.bottom);
            ctx.lineTo(px, a.bottom - len);
            ctx.moveTo(px, a.top);
            ctx.lineTo(px, a.top + len);
          }
          for (let i = -17; i <= 17; i++) {
            const py = y.getPixelForValue(i * 0.1);
            const len = i % 5 === 0 ? 12 : 8;
            ctx.moveTo(a.left, py);
            ctx.lineTo(a.left + len, py);
            ctx.moveTo(a.right, py);
            ctx.lineTo(a.right - len, py);
          }
          ctx.stroke();
          ctx.strokeStyle = "#000";
          ctx.lineWidth = 5.5;
          ctx.strokeRect(a.left, a.top, a.right - a.left, a.bottom - a.top);
          ctx.restore();
        },
      };

      // bands: [wall, mid, edge]; wall->mid dark, mid->edge lighter
      function drawPanel(id, bands, curves, dark, light) {
        const datasets = [];
        for (const [wall, mid, edge] of bands) {
          datasets.push({
            data: wall,
            fill: "+1",
            borderColor: (c) => bandShade(c.chart, dark),
            backgroundColor: (c) => bandShade(c.chart, dark),
            borderWidth: 4,
            cubicInterpolationMode: "monotone",
          });
          datasets.push({
            data: mid,
            fill: "+1",
            borderColor: "rgba(0,0,0,0)",
            backgroundColor: (c) => bandShade(c.chart, light),
            borderWidth: 1,
            cubicInterpolationMode: "monotone",
          });
          datasets.push({
            data: edge,
            fill: false,
            borderColor: "rgba(0,0,0,0)",
            borderWidth: 1,
            cubicInterpolationMode: "monotone",
          });
        }
        for (const pts of curves) {
          datasets.push({
            data: pts,
            fill: false,
            borderColor: LINE_GREY,
            borderWidth: 5,
            tension: 0.35,
          });
        }

        return new Chart(document.getElementById(id), {
          type: "line",
          data: { datasets: datasets },
          plugins: [framePlugin],
          options: {
            responsive: false,
            animation: false,
            events: [],
            layout: { padding: { top: 39, right: 55, bottom: 0, left: 0 } },
            elements: { point: { radius: 0 }, line: { borderJoinStyle: "round" } },
            plugins: { legend: { display: false }, tooltip: { enabled: false } },
            scales: {
              x: {
                type: "linear",
                min: -0.02,
                max: 1.02,
                grid: { display: false, drawTicks: false },
                border: { display: false },
                afterBuildTicks: (s) => { s.ticks = zTicks.map((v) => ({ value: v })); },
                afterFit: (s) => { s.height = 249; s.paddingLeft = 0; s.paddingRight = 0; },
                ticks: {
                  autoSkip: false,
                  maxRotation: 0,
                  padding: 15,
                  color: "#000",
                  font: { family: SERIF, size: 78 },
                  callback: (v) => fmt(v),
                },
                title: {
                  display: true,
                  text: "z",
                  color: "#000",
                  font: { family: SERIF, size: 112, weight: "bold", style: "italic", lineHeight: 1 },
                  padding: { top: 0, bottom: 18 },
                },
              },
              y: {
                type: "linear",
                min: -R_MAX,
                max: R_MAX,
                grid: { display: false, drawTicks: false },
                border: { display: false },
                afterBuildTicks: (s) => { s.ticks = rTicks.map((v) => ({ value: v })); },
                afterFit: (s) => { s.width = 292.5; s.paddingTop = 0; s.paddingBottom = 0; },
                ticks: {
                  autoSkip: false,
                  padding: 10.5,
                  color: "#000",
                  font: { family: SERIF, size: 78 },
                  callback: (v) => fmt(v),
                },
                title: {
                  display: true,
                  text: "r",
                  color: "#000",
                  font: { family: SERIF, size: 112, weight: "bold", style: "italic", lineHeight: 1 },
                  padding: { top: -13, bottom: 0 },
                },
              },
            },
          },
        });
      }

      drawPanel(
        "chart-a",
        [[aWallTop, aMidTop, aEdgeTop], [aWallBot, aMidBot, aEdgeBot]],
        [
          aL1, aL2, aL3, aM1, aM2, aM3, aM4, aR1, aR2, aR3,
          aLobe1, aLobe2, aLobe3, aLobe4, aLobeR, aT1, aT2, aT3, aT4,
          aL1b, aL2b, aL3b, aM1b, aM2b, aM3b, aM4b, aR1b, aR2b, aR3b,
          aLobe1b, aLobe2b, aLobe3b, aLobe4b, aLobeRb, aB1, aB2, aB3, aB4,
        ],
        darkAB,
        lightAB
      );

      drawPanel(
        "chart-b",
        [[bWallTop, bMidTop, bEdgeTop], [bWallBot, bMidBot, bEdgeBot]],
        [
          bL1, bL2, bL3, bM1, bM2, bM3, bM4, bR1, bR2, bR3,
          bLobeL1, bLobeL2, bLobeL3, bLobeL4, bLobeR1, bLobeR2, bLobeR3, bLobeR4, bT1, bT2, bT3,
          bL1b, bL2b, bL3b, bM1b, bM2b, bM3b, bM4b, bR1b, bR2b, bR3b,
          bLobeL1b, bLobeL2b, bLobeL3b, bLobeL4b, bLobeR1b, bLobeR2b, bLobeR3b, bLobeR4b, bB1, bB2, bB3,
        ],
        darkAB,
        lightAB
      );

      drawPanel(
        "chart-c",
        [
          [cWallLTop, cMidLTop, cEdgeLTop], [cWallRTop, cMidRTop, cEdgeRTop],
          [cWallLBot, cMidLBot, cEdgeLBot], [cWallRBot, cMidRBot, cEdgeRBot],
        ],
        [
          cL1, cL2, cL3, cR1, cR2, cR3, cLoop1, cLoop2, cLobeL1, cLobeL2,
          cLobeR1, cLobeR2, cLobeR3, cLobeR4, cLobeR5, cLobeR6, cLobeR7, cLobeR8, cLobeR9, cLobeR10, cT1, cT2,
          cL1b, cL2b, cL3b, cR1b, cR2b, cR3b, cLoop1b, cLoop2b, cLobeL1b, cLobeL2b,
          cLobeR1b, cLobeR2b, cLobeR3b, cLobeR4b, cLobeR5b, cLobeR6b, cLobeR7b, cLobeR8b, cLobeR9b, cLobeR10b, cB1, cB2,
        ],
        darkC,
        lightC
      );
    </script>
  </body>
</html>
